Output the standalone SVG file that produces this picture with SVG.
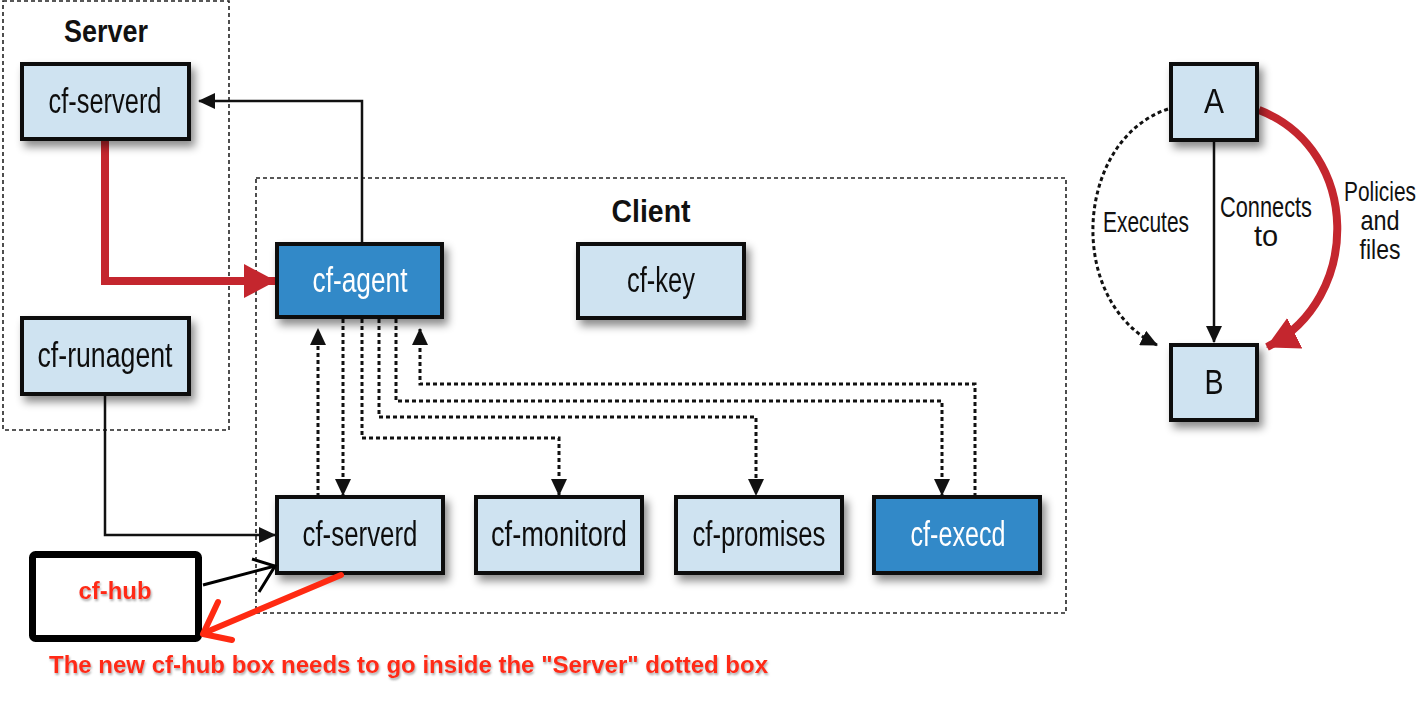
<svg xmlns="http://www.w3.org/2000/svg" width="1420" height="718" viewBox="0 0 1420 718">
<defs>
<style>
.cont{fill:none;stroke:#222;stroke-width:1.6;stroke-dasharray:4 3}
.box{fill:#cfe3f1;stroke:#111;stroke-width:4}
.dark{fill:#3389c8;stroke:#111;stroke-width:4}
.lbl{font-family:"Liberation Sans",Arial,sans-serif;font-size:35px;fill:#111;text-anchor:middle}
.wl{fill:#fff}
.title{font-family:"Liberation Sans",Arial,sans-serif;font-size:31px;font-weight:bold;fill:#111;text-anchor:middle}
.leg{font-family:"Liberation Sans",Arial,sans-serif;font-size:29px;fill:#111;text-anchor:middle}
.leg2{font-family:"Liberation Sans",Arial,sans-serif;font-size:27px;fill:#111;text-anchor:middle}
.solid{fill:none;stroke:#111;stroke-width:2.5}
.dot{fill:none;stroke:#111;stroke-width:3;stroke-dasharray:4 3}
.red{fill:none;stroke:#c4262e;stroke-width:8}
.note{fill:none;stroke:#ff2a12;stroke-width:6;stroke-linecap:round;stroke-linejoin:round}
.notetxt{font-family:"Liberation Sans",Arial,sans-serif;font-weight:bold;fill:#ff2a12}
</style>
<filter id="sh" x="-20%" y="-20%" width="150%" height="160%">
<feDropShadow dx="4" dy="6" stdDeviation="4" flood-color="#000" flood-opacity="0.45"/>
</filter>
<filter id="tsh" x="-10%" y="-30%" width="120%" height="170%">
<feDropShadow dx="1" dy="2" stdDeviation="1" flood-color="#888" flood-opacity="0.7"/>
</filter>
<marker id="ah" markerUnits="userSpaceOnUse" markerWidth="17" markerHeight="16" refX="16" refY="8" orient="auto">
<path d="M0,0 L17,8 L0,16 z" fill="#111"/>
</marker>
<marker id="rh" markerUnits="userSpaceOnUse" markerWidth="32" markerHeight="34" refX="31" refY="17" orient="auto">
<path d="M0,0 L32,17 L0,34 z" fill="#c4262e"/>
</marker>
</defs>
<rect width="1420" height="718" fill="#fff"/>

<g id="server-group">
<rect class="cont" x="3" y="1" width="226" height="429"/>
<text class="title" x="106" y="42" textLength="84" lengthAdjust="spacingAndGlyphs">Server</text>
</g>
<g id="client-group">
<rect class="cont" x="256" y="178" width="810" height="435"/>
<text class="title" x="651" y="222" textLength="79" lengthAdjust="spacingAndGlyphs">Client</text>
</g>

<g id="connectors">
<path class="solid" d="M362,244 V101 H199" marker-end="url(#ah)"/>
<path class="red" d="M105,139 V281 H275" marker-end="url(#rh)"/>
<path class="solid" d="M105,394 V535 H275" marker-end="url(#ah)"/>
<path class="dot" d="M318,497 V329" marker-end="url(#ah)"/>
<path class="dot" d="M343,319 V495" marker-end="url(#ah)"/>
<path class="dot" d="M362,319 V438 H559 V495" marker-end="url(#ah)"/>
<path class="dot" d="M379,319 V417 H756 V495" marker-end="url(#ah)"/>
<path class="dot" d="M396,319 V401 H942 V495" marker-end="url(#ah)"/>
<path class="dot" d="M975,497 V384 H420 V329" marker-end="url(#ah)"/>
<path class="solid" d="M1214,141 V342" marker-end="url(#ah)"/>
<path class="dot" d="M1168,109 C1075,140 1065,300 1157,345" marker-end="url(#ah)"/>
<path class="red" d="M1259,110 C1362,150 1362,300 1267,347" marker-end="url(#rh)"/>
</g>

<g id="n-serverd-s" filter="url(#sh)">
<rect class="box" x="22" y="64" width="167" height="75"/>
<text class="lbl" x="105" y="113" textLength="113" lengthAdjust="spacingAndGlyphs">cf-serverd</text>
</g>
<g id="n-runagent" filter="url(#sh)">
<rect class="box" x="22" y="318" width="167" height="76"/>
<text class="lbl" x="105" y="367" textLength="135" lengthAdjust="spacingAndGlyphs">cf-runagent</text>
</g>
<g id="n-agent" filter="url(#sh)">
<rect class="dark" x="277" y="244" width="165" height="73"/>
<text class="lbl wl" x="360" y="292" textLength="95" lengthAdjust="spacingAndGlyphs">cf-agent</text>
</g>
<g id="n-key" filter="url(#sh)">
<rect class="box" x="578" y="244" width="166" height="74"/>
<text class="lbl" x="661" y="292" textLength="68" lengthAdjust="spacingAndGlyphs">cf-key</text>
</g>
<g id="n-serverd-c" filter="url(#sh)">
<rect class="box" x="277" y="497" width="166" height="76"/>
<text class="lbl" x="360" y="546" textLength="115" lengthAdjust="spacingAndGlyphs">cf-serverd</text>
</g>
<g id="n-monitord" filter="url(#sh)">
<rect class="box" x="476" y="497" width="166" height="76"/>
<text class="lbl" x="559" y="546" textLength="136" lengthAdjust="spacingAndGlyphs">cf-monitord</text>
</g>
<g id="n-promises" filter="url(#sh)">
<rect class="box" x="676" y="497" width="166" height="76"/>
<text class="lbl" x="759" y="546" textLength="133" lengthAdjust="spacingAndGlyphs">cf-promises</text>
</g>
<g id="n-execd" filter="url(#sh)">
<rect class="dark" x="874" y="497" width="166" height="76"/>
<text class="lbl wl" x="958" y="546" textLength="95" lengthAdjust="spacingAndGlyphs">cf-execd</text>
</g>
<g id="n-A" filter="url(#sh)">
<rect class="box" x="1171" y="64" width="86" height="76"/>
<text class="lbl" x="1214" y="113" textLength="20" lengthAdjust="spacingAndGlyphs">A</text>
</g>
<g id="n-B" filter="url(#sh)">
<rect class="box" x="1171" y="345" width="86" height="75"/>
<text class="lbl" x="1214" y="394" textLength="19" lengthAdjust="spacingAndGlyphs">B</text>
</g>

<g id="legend-labels">
<text class="leg" x="1146" y="232" textLength="86" lengthAdjust="spacingAndGlyphs">Executes</text>
<text class="leg" x="1266" y="217" textLength="92" lengthAdjust="spacingAndGlyphs">Connects</text>
<text class="leg" x="1266" y="246">to</text>
<g transform="translate(1380 0) scale(0.8 1)">
<text class="leg2" x="0" y="201" textLength="90" lengthAdjust="spacingAndGlyphs">Policies</text>
<text class="leg2" x="0" y="230" textLength="49" lengthAdjust="spacingAndGlyphs">and</text>
<text class="leg2" x="0" y="259" textLength="51" lengthAdjust="spacingAndGlyphs">files</text>
</g>
</g>

<g id="n-hub">
<rect x="32.5" y="554.5" width="166" height="84" rx="3" fill="#fff" stroke="#000" stroke-width="7"/>
<text class="notetxt" x="115" y="599" font-size="23" text-anchor="middle" textLength="73" lengthAdjust="spacingAndGlyphs" filter="url(#tsh)">cf-hub</text>
</g>
<g id="hub-connector">
<path d="M203,585 L275,566" fill="none" stroke="#000" stroke-width="3"/>
<path d="M252,559 L275,566 L259,592" fill="none" stroke="#000" stroke-width="3"/>
</g>
<g id="annotation">
<path class="note" d="M341,575 L204,633"/>
<path class="note" d="M218,602 L203,634 L232,640"/>
<text class="notetxt" x="49" y="673" font-size="23" textLength="719" lengthAdjust="spacingAndGlyphs" filter="url(#tsh)">The new cf-hub box needs to go inside the "Server" dotted box</text>
</g>
</svg>
